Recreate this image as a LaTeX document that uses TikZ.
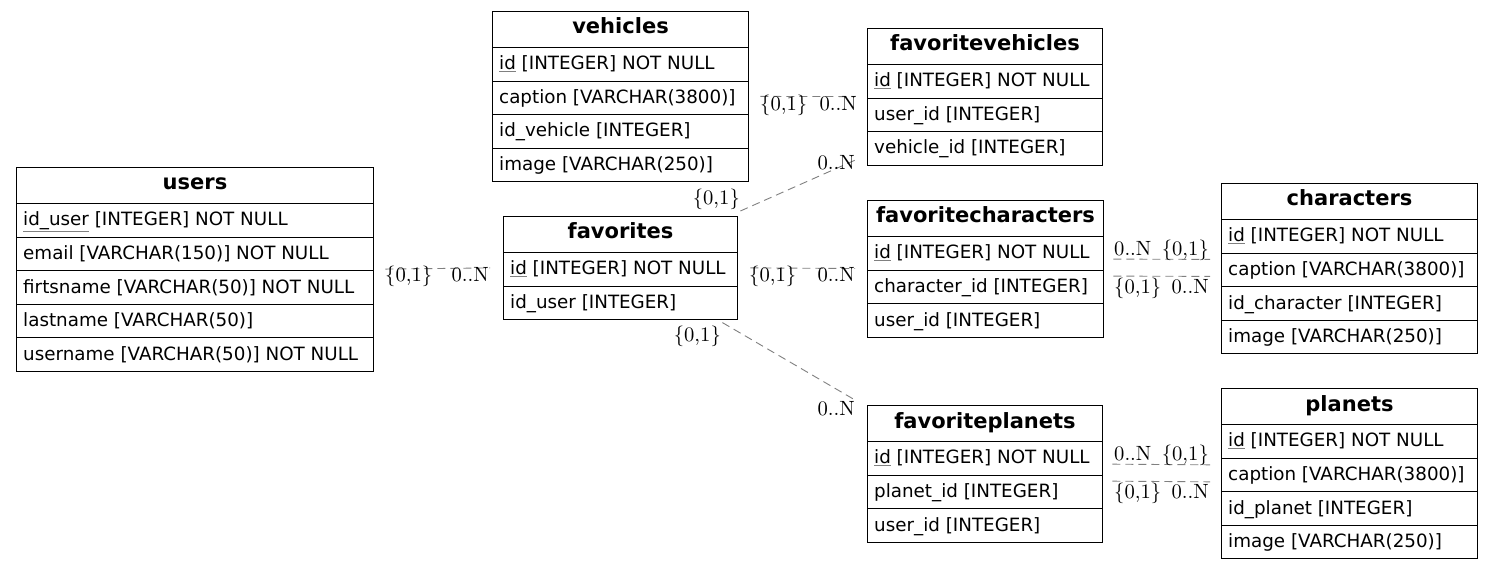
\documentclass[tikz,border=0pt]{standalone}
\usepackage{fontspec}
\newfontfamily\tabfont{DejaVu Sans}
\newfontfamily\lblfont{lmroman10-regular}[Extension=.otf]
\usetikzlibrary{calc}
\newcommand\pk[1]{{\color{gray}\underline{\textcolor{black}{#1}}}}
\tikzset{
  tabbox/.style={draw=none, inner sep=0pt, anchor=north west},
  hdr/.style={draw=black, line width=1pt, anchor=north west, inner sep=0pt,
    minimum height=36pt, text height=9pt, text depth=0pt,
    font=\tabfont\fontsize{21}{25}\selectfont\bfseries},
  rowbox/.style={draw=black, line width=1pt, anchor=north west, inner sep=0pt,
    minimum height=33.6pt},
  rowtxt/.style={anchor=west, inner xsep=7pt, inner ysep=0pt,
    text height=11pt, text depth=0pt,
    font=\tabfont\fontsize{18.3}{22}\selectfont},
  rel/.style={draw=gray, line width=0.9pt, dash pattern=on 8pt off 5pt},
  lbl/.style={inner sep=0pt, font=\lblfont\fontsize{20.6}{24}\selectfont}
}
% #1 name, #2 x, #3 y, #4 width, #5 number of rows, #6 title, #7 rows
\newcommand\ertab[7]{%
  \node[tabbox, minimum width=#4pt, minimum height={36pt+#5*33.6pt}] (#1) at (#2,#3) {};
  \node[hdr, minimum width=#4pt] (#1-h) at (#2,#3) {#6};
  \foreach \rw [count=\i] in {#7} {
    \node[rowbox, minimum width=#4pt] (#1-\i) at (#2,{#3+36+(\i-1)*33.6}) {};
    \node[rowtxt] (#1-t\i) at (#1-\i.west) {\rw};
  }%
}
\begin{document}
\begin{tikzpicture}[x=1pt,y=-1pt]
\useasboundingbox[fill=white] (0,0) rectangle (1493,569);

\ertab{users}{16}{167}{357}{5}{users}{\pk{id\_user} [INTEGER] NOT NULL,email [VARCHAR(150)] NOT NULL,firtsname [VARCHAR(50)] NOT NULL,lastname [VARCHAR(50)],username [VARCHAR(50)] NOT NULL}
\ertab{vehicles}{492}{11}{256}{4}{vehicles}{\pk{id} [INTEGER] NOT NULL,caption [VARCHAR(3800)],id\_vehicle [INTEGER],image [VARCHAR(250)]}
\ertab{favorites}{503}{216}{234}{2}{favorites}{\pk{id} [INTEGER] NOT NULL,id\_user [INTEGER]}
\ertab{favoritevehicles}{867}{28}{235}{3}{favoritevehicles}{\pk{id} [INTEGER] NOT NULL,user\_id [INTEGER],vehicle\_id [INTEGER]}
\ertab{favoritecharacters}{867}{200}{236}{3}{favoritecharacters}{\pk{id} [INTEGER] NOT NULL,character\_id [INTEGER],user\_id [INTEGER]}
\ertab{characters}{1221}{183}{256}{4}{characters}{\pk{id} [INTEGER] NOT NULL,caption [VARCHAR(3800)],id\_character [INTEGER],image [VARCHAR(250)]}
\ertab{favoriteplanets}{867}{405}{235}{3}{favoriteplanets}{\pk{id} [INTEGER] NOT NULL,planet\_id [INTEGER],user\_id [INTEGER]}
\ertab{planets}{1221}{388}{256}{4}{planets}{\pk{id} [INTEGER] NOT NULL,caption [VARCHAR(3800)],id\_planet [INTEGER],image [VARCHAR(250)]}

% connectors
\draw[rel, shorten <=12pt, shorten >=13pt] (users.east) -- (favorites.west);
\draw[rel, shorten <=12pt, shorten >=12pt] (vehicles.east) -- (favoritevehicles.west);
\draw[rel] ([shift={(3,-5)}]favorites.north east) -- ([shift={(-12,-5)}]favoritevehicles.south west);
\draw[rel, shorten <=13pt, shorten >=12pt] (favorites.east) -- (favoritecharacters.west);
\draw[rel] ([shift={(-15,3)}]favorites.south east) -- ([shift={(-12,-5)}]favoriteplanets.north west);
\draw[rel, shorten <=10pt, shorten >=11pt] ([shift={(0,-9.5)}]favoritecharacters.east) -- ([shift={(0,-9)}]characters.west);
\draw[rel, shorten <=10pt, shorten >=11pt] ([shift={(0,7.5)}]favoritecharacters.east) -- ([shift={(0,8)}]characters.west);
\draw[rel, shorten <=10pt, shorten >=11pt] ([shift={(0,-9.5)}]favoriteplanets.east) -- ([shift={(0,-8.5)}]planets.west);
\draw[rel, shorten <=10pt, shorten >=11pt] ([shift={(0,7.5)}]favoriteplanets.east) -- ([shift={(0,8.5)}]planets.west);

% cardinality labels
\node[lbl, anchor=base west] (l1a) at (385,282) {\{0,1\}};
\node[lbl, anchor=base east] (l1b) at (489,282) {0..N};
\node[lbl, anchor=base west] (l2a) at (760,111) {\{0,1\}};
\node[lbl, anchor=base east] (l2b) at (857,111) {0..N};
\node[lbl, anchor=base east] (l3a) at (740,205) {\{0,1\}};
\node[lbl, anchor=base east] (l3b) at (855,170) {0..N};
\node[lbl, anchor=base west] (l4a) at (749,282) {\{0,1\}};
\node[lbl, anchor=base east] (l4b) at (855,282) {0..N};
\node[lbl, anchor=base east] (l5a) at (721,341) {\{0,1\}};
\node[lbl, anchor=base east] (l5b) at (855,415) {0..N};
\node[lbl, anchor=base west] (l6a) at (1114,255) {0..N};
\node[lbl, anchor=base east] (l6b) at (1209,255) {\{0,1\}};
\node[lbl, anchor=base west] (l6c) at (1114,293) {\{0,1\}};
\node[lbl, anchor=base east] (l6d) at (1209,293) {0..N};
\node[lbl, anchor=base west] (l7a) at (1114,460) {0..N};
\node[lbl, anchor=base east] (l7b) at (1209,460) {\{0,1\}};
\node[lbl, anchor=base west] (l7c) at (1114,498) {\{0,1\}};
\node[lbl, anchor=base east] (l7d) at (1209,498) {0..N};
\end{tikzpicture}
\end{document}
